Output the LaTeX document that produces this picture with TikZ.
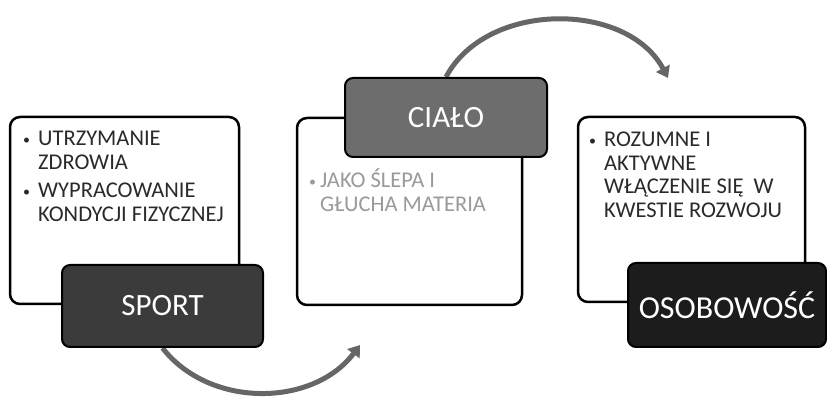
\documentclass[tikz,border=0pt]{standalone}
\usepackage{fontspec}
\setmainfont{Carlito}
\usetikzlibrary{arrows.meta,backgrounds,positioning}

\definecolor{sportgray}{HTML}{3B3B3B}
\definecolor{cialogray}{HTML}{6D6D6D}
\definecolor{osobgray}{HTML}{1C1C1C}
\definecolor{flowgray}{HTML}{666666}
\definecolor{itemdark}{HTML}{2A2A2A}
\definecolor{itemlight}{HTML}{9A9A9A}

\newcommand\itembullet{\raisebox{1.5pt}{\fontsize{14}{14}\selectfont•}}

\tikzset{
  itembox/.style={draw=black, line width=2.5pt, rounded corners=10pt, fill=white},
  titlebox/.style={draw=black, line width=2pt, rounded corners=8pt, text=white,
    font=\fontsize{31}{34}\selectfont},
  itemtext/.style={inner sep=0pt, anchor=base west, text=itemdark,
    font=\fontsize{22.5}{23.5}\selectfont},
  flow/.style={draw=flowgray, line width=5pt, -{Triangle[length=11pt,width=15pt]}}
}

\begin{document}
\begin{tikzpicture}[x=1pt,y=1pt]
    \useasboundingbox (0,0) rectangle (827,401);
    % Content boxes:
    \node[itembox, minimum width=229pt, minimum height=187pt] (sportbox) at (124.5,190.5) {};
    \node[itembox, minimum width=225pt, minimum height=187pt] (cialobox) at (409.5,189.5) {};
    \node[itembox, minimum width=227pt, minimum height=185pt] (osobbox) at (691.5,191.5) {};
    % Items:
    \node[itemtext] (sportitems) at (23,255) {\begin{tabular}[t]{@{}p{15pt}@{}l@{}}
        \itembullet&UTRZYMANIE\\ &ZDROWIA\\[5pt] \itembullet&WYPRACOWANIE\\ &KONDYCJI FIZYCZNEJ\end{tabular}};
    \node[itemtext, text=itemlight] (cialoitems) at (309,213) {\begin{tabular}[t]{@{}p{11pt}@{}l@{}}
        \itembullet&JAKO ŚLEPA I\\ &GŁUCHA MATERIA\end{tabular}};
    \node[itemtext] (osobitems) at (589,254) {\begin{tabular}[t]{@{}p{15pt}@{}l@{}}
        \itembullet&ROZUMNE I\\ &AKTYWNE\\ &WŁĄCZENIE SIĘ\ \ W\\ &KWESTIE ROZWOJU\end{tabular}};
    % Titles:
    \node[titlebox, fill=sportgray, minimum width=201pt, minimum height=82pt] (sport) at (162.5,95) {SPORT};
    \node[titlebox, fill=cialogray, minimum width=202pt, minimum height=79pt] (cialo) at (446,283.5) {CIAŁO};
    \node[titlebox, fill=osobgray, minimum width=198pt, minimum height=84pt,
      font=\fontsize{32}{35}\selectfont] (osob) at (727,96) {OSOBOWOŚĆ};
    % Arrows behind the boxes:
    \coordinate (cialoin) at (360,56);
    \coordinate (osobin) at (668,323);
    \begin{scope}[on background layer]
    \draw[flow] (sport.south) to[out=-52,in=-127] (cialoin);
    \draw[flow] (cialo.north) to[out=62,in=118] (osobin);
    \end{scope}
\end{tikzpicture}
\end{document}
